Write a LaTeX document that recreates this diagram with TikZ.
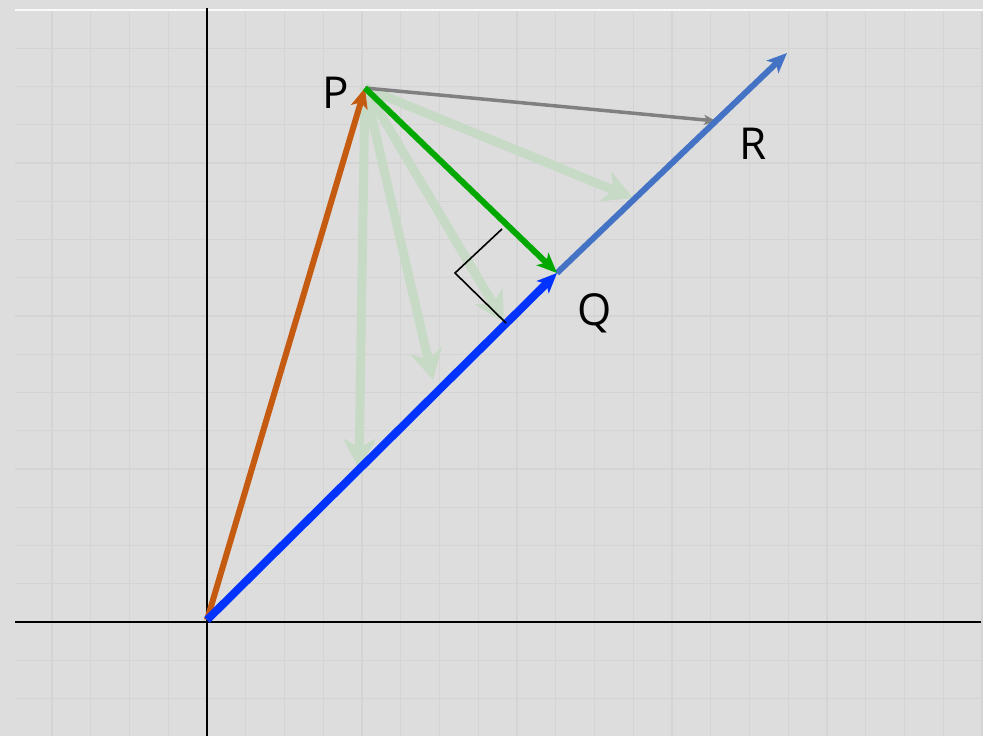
\documentclass[tikz,border=0pt]{standalone}
\usepackage{fontspec}
\setsansfont{Open Sans}
\usetikzlibrary{arrows.meta}
\definecolor{bg}{HTML}{DDDDDD}
\definecolor{gridc}{HTML}{D4D4D4}
\definecolor{orangev}{HTML}{C55A11}
\definecolor{greenv}{HTML}{00A800}
\definecolor{faintg}{HTML}{C6DAC6}
\definecolor{bluev}{HTML}{0033FF}
\definecolor{lblue}{HTML}{4472C4}
\definecolor{grayv}{HTML}{808080}
\tikzset{
  vec/.style={line width=#1, -{Stealth[length=20pt,width=17pt,inset=5pt]}},
  faint/.style={faintg, line width=9pt, -{Stealth[length=30pt,width=32pt,inset=9pt]}},
  lab/.style={font=\sffamily\fontsize{44}{44}\selectfont, inner sep=0pt}
}
\begin{document}
\begin{tikzpicture}[x=1pt,y=-1pt]
\useasboundingbox (0,0) rectangle (983,736);
\fill[bg] (0,0) rectangle (983,736);
% grid
\begin{scope}
\clip (15,10) rectangle (983,736);
\foreach \k in {-5,...,20} \draw[gridc, line width=1.3pt] ({207+38.75*\k},0) -- ({207+38.75*\k},736);
\foreach \k in {-4,...,16} \draw[gridc, line width=1.3pt] (0,{622-38.25*\k}) -- (983,{622-38.25*\k});
\end{scope}
\draw[white!85!bg, line width=1.5pt] (15,10) -- (983,10);
% axes
\draw[black, line width=2.2pt] (207,8) -- (207,736);
\draw[black, line width=2.6pt] (15,622) -- (981,622);
% points
\coordinate (O) at (207,620);
\coordinate (P) at (365,88);
\coordinate (Q) at (557,273);
\coordinate (Rtip) at (787,53);
\coordinate (G) at (716,121);
\coordinate (F1) at (633,198);
\coordinate (F2) at (504,322);
\coordinate (F3) at (433,380);
\coordinate (F4) at (359,469);
\coordinate (A1) at (502,229);
\coordinate (A2) at (455,273);
\coordinate (A3) at (506,323);
% faint arrows
\foreach \f in {F1,F2,F3,F4} \draw[faint] (P) -- (\f);
% vectors
\draw[orangev, vec=6pt] (O) -- (P);
\draw[grayv, line width=3.5pt, -{Stealth[length=12pt,width=10pt,inset=3pt]}] (P) -- (G);
\draw[lblue, vec=6pt] (Q) -- (Rtip);
\draw[greenv, vec=6pt] (P) -- (Q);
\draw[bluev, vec=8pt] (O) -- (Q);
% right angle mark
\draw[black, line width=1.6pt] (A1) -- (A2) -- (A3);
% labels
\node[lab] (lp) at (336,93) {P};
\node[lab] (lq) at (595,313) {Q};
\node[lab] (lr) at (753,144) {R};
\end{tikzpicture}
\end{document}
